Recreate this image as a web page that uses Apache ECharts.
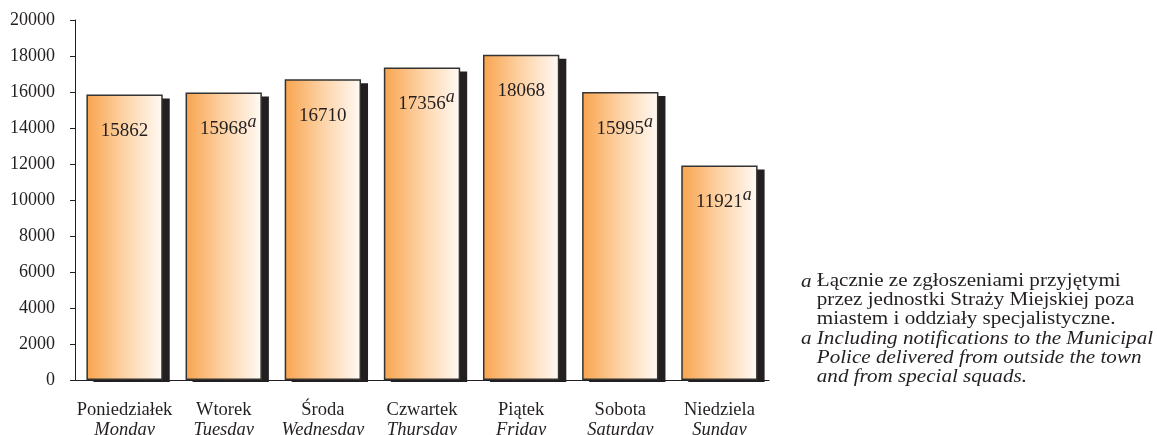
<!DOCTYPE html>
<html>
<head>
<meta charset="utf-8">
<script src="https://cdn.jsdelivr.net/npm/echarts@6/dist/echarts.min.js"></script>
<style>
  html, body { margin: 0; padding: 0; background: #fff; }
  #chart { width: 1157px; height: 435px; }
</style>
</head>
<body>
<div id="chart"></div>
<script>
// dane
const daysPl = ["Poniedziałek", "Wtorek", "Środa", "Czwartek", "Piątek", "Sobota", "Niedziela"];
const daysEn = ["Monday", "Tuesday", "Wednesday", "Thursday", "Friday", "Saturday", "Sunday"];
const counts = [15862, 15968, 16710, 17356, 18068, 15995, 11921];
const footnoteMark = [false, true, false, true, false, true, true];
const footnotePl = ["Łącznie ze zgłoszeniami przyjętymi", "przez jednostki Straży Miejskiej poza", "miastem i oddziały specjalistyczne."];
const footnoteEn = ["Including notifications to the Municipal", "Police delivered from outside the town", "and from special squads."];

const FONT = "Liberation Serif";
const INK = "#231f20";
const BAR_RATIO = 0.77;

const chart = echarts.init(document.getElementById("chart"));

const barFill = new echarts.graphic.LinearGradient(0, 0, 1, 0, [
  { offset: 0, color: "#f8a44e" },
  { offset: 0.5, color: "#fdd3a6" },
  { offset: 1, color: "#fffaf5" },
]);

// cień słupka (przesunięty w prawo i w dół)
function renderShadow(params, api) {
  const top = api.coord([api.value(0), api.value(1)]);
  const base = api.coord([api.value(0), 0]);
  const w = api.size([1, 0])[0] * BAR_RATIO;
  return {
    type: "rect",
    shape: { x: top[0] - w / 2 + 7, y: top[1] + 4, width: w, height: base[1] - top[1] - 2 },
    style: { fill: INK },
  };
}

const option = {
  backgroundColor: "#fff",
  animation: false,
  grid: { left: 75, right: 388, top: 20, bottom: 55, containLabel: false, outerBoundsMode: "none" },
  xAxis: {
    type: "category",
    data: daysPl,
    axisLine: { lineStyle: { color: INK, width: 1 } },
    axisTick: { show: false },
    axisLabel: {
      interval: 0,
      margin: 20,
      lineHeight: 20,
      formatter: (v, i) => "{pl|" + v + "}\n{en|" + daysEn[i] + "}",
      rich: {
        pl: { fontFamily: FONT, fontSize: 18.5, color: INK, lineHeight: 20 },
        en: { fontFamily: FONT, fontSize: 18.5, fontStyle: "italic", color: INK, lineHeight: 20 },
      },
    },
  },
  yAxis: {
    type: "value",
    min: 0,
    max: 20000,
    interval: 2000,
    splitLine: { show: false },
    axisLine: { show: true, lineStyle: { color: INK, width: 1 } },
    axisTick: { show: true, length: 5, lineStyle: { color: INK } },
    axisLabel: { margin: 20, fontFamily: FONT, fontSize: 18, color: INK, formatter: (v) => String(v) },
  },
  series: [
    {
      type: "custom",
      z: 1,
      renderItem: renderShadow,
      encode: { x: 0, y: 1 },
      data: counts.map((v, i) => [i, v]),
      silent: true,
    },
    {
      type: "bar",
      z: 2,
      barCategoryGap: "23%",
      data: counts.map((v, i) => ({
        value: v,
        label: {
          formatter: footnoteMark[i] ? "{p| }{v|" + v + "}{s|a}" : "{p| }{v|" + v + "}{q| }",
        },
      })),
      itemStyle: {
        color: barFill,
        borderColor: "#333",
        borderWidth: 1.5,
      },
      label: {
        show: true,
        position: "insideTop",
        distance: 21,
        rich: {
          v: { fontFamily: FONT, fontSize: 19, color: INK },
          p: { width: 9 },
          q: { width: 9, fontSize: 18, padding: [0, 0, 13, 0] },
          s: { fontFamily: FONT, fontSize: 18, fontStyle: "italic", color: INK, padding: [0, 0, 13, 0] },
        },
      },
    },
  ],
  graphic: [
    {
      type: "text",
      x: 801,
      y: 272,
      scaleX: 1.11,
      style: {
        text: footnotePl.map((t, i) => (i === 0 ? "{m|a} " : "{m|  } ") + t).join("\n")
          + "\n" + footnoteEn.map((t, i) => (i === 0 ? "{m|a} " : "{m|  } ") + "{m|" + t + "}").join("\n"),
        font: "19px " + FONT,
        fill: INK,
        lineHeight: 19,
        rich: { m: { font: "italic 19px " + FONT, fill: INK, lineHeight: 19 } },
      },
    },
  ],
};

chart.setOption(option);
</script>
</body>
</html>
